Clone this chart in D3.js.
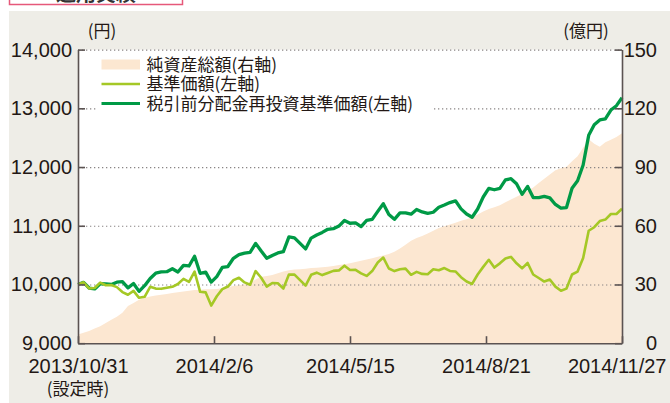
<!DOCTYPE html>
<html><head><meta charset="utf-8">
<script src="https://cdn.jsdelivr.net/npm/d3@7"></script>
<style>body{margin:0;background:#fff;} svg{display:block}</style>
</head><body><svg id="c" width="670" height="403"></svg>
<script>
// ---- data ----
const startDate = "2013-10-31";
const stepDays = 4; // one observation every 4 days
const navTotal = [ // 純資産総額 (億円)
4.5,5.3,6.2,7.5,8.6,10.3,12,13.5,15.6,19,
20.6,22.2,23.2,23.8,24.4,24.8,25.2,25.6,26,26.4,
26.8,27.2,27.3,27.5,27.6,27.7,28.1,28.7,29.2,29.6,
30.1,30.5,32.5,34,34.3,34.9,35.8,36.6,37.3,37.6,
37.8,38.1,38.4,38.6,38.8,39,39.4,39.9,40.3,40.9,
41.5,42.1,42.7,43.4,44.2,44.8,45.6,46.7,48.4,50.3,
52.3,53.8,54.8,56,57.4,58.8,59.8,60.7,61.6,62.5,
63.3,64.4,65.7,67.3,68.6,69.4,70.5,72,73.4,74.8,
76.2,77.7,79.5,81.8,84,86.2,88.3,89.4,90.1,93,
95.5,99.8,104.2,101.9,100.4,102.7,104,105.4,107.2];
const basePrice = [ // 基準価額 (円)
10000,10037,9932,9940,10032,9987,9990,9955,9871,9825,
9890,9773,9790,9960,9930,9926,9945,9960,10008,10095,
10045,10220,9875,9865,9640,9800,9920,9965,10075,10115,
10035,9995,10228,10115,9963,10025,10020,9930,10170,10168,
10075,9980,10165,10201,10160,10195,10232,10240,10320,10247,
10250,10190,10146,10228,10375,10458,10272,10228,10258,10270,
10165,10215,10180,10175,10258,10242,10280,10230,10222,10124,
10050,10009,10170,10300,10420,10288,10360,10444,10470,10360,
10275,10366,10170,10110,10050,10085,9963,9893,9930,10170,
10220,10450,10915,10975,11080,11105,11200,11200,11290];
const reinvestPrice = [ // 税引前分配金再投資基準価額 (円)
10000,10037,9940,9924,10013,10010,10000,10039,10047,9942,
10016,9883,9980,10103,10192,10213,10218,10268,10213,10326,
10315,10480,10190,10210,10040,10135,10290,10306,10446,10509,
10533,10548,10700,10570,10446,10495,10538,10560,10810,10794,
10700,10606,10790,10843,10887,10940,10950,10995,11090,11043,
11050,10985,11090,11108,11245,11376,11190,11110,11220,11220,
11197,11278,11236,11211,11230,11315,11353,11395,11425,11288,
11200,11145,11285,11490,11638,11613,11638,11780,11801,11715,
11535,11670,11480,11480,11500,11475,11363,11300,11310,11640,
11767,12035,12540,12720,12802,12820,12970,13045,13180];
const leftTicks = [9000,10000,11000,12000,13000,14000];
const rightTicks = [0,30,60,90,120,150];
const xTickDates = ["2013-10-31","2014-02-06","2014-05-15","2014-08-21","2014-11-27"];
const xTickLabels = ["2013/10/31","2014/2/6","2014/5/15","2014/8/21","2014/11/27"];
const legendLabels = ["純資産総額(右軸)","基準価額(左軸)","税引前分配金再投資基準価額(左軸)"];
const titleText = "運用実績";

// ---- build ----
const parse = d3.utcParse("%Y-%m-%d");
const t0 = parse(startDate);
const rows = navTotal.map((v,i)=>({date:d3.utcDay.offset(t0,i*stepDays),nav:v,base:basePrice[i],re:reinvestPrice[i]}));

const L=78,R=622,T=49.6,B=343.2;
const x = d3.scaleUtc().domain([parse(xTickDates[0]),parse(xTickDates[4])]).range([L,R]);
const yL = d3.scaleLinear().domain([9000,14000]).range([B,T]);
const yR = d3.scaleLinear().domain([0,150]).range([B,T]);

const svg = d3.select("#c");
const num = '"Liberation Sans Narrow","Arial Narrow","Liberation Sans",sans-serif';
const jp = '"Noto Sans CJK JP","Noto Sans",sans-serif';
const ink = "#231815";
const axisCol = "#5b5352";

// title box (cut at top)
svg.append("rect").attr("x",9.5).attr("y",-12).attr("width",173).attr("height",16.5)
  .attr("fill","#fff").attr("stroke","#e6587a").attr("stroke-width",1.5);
svg.append("text").attr("x",96).attr("y",1).attr("text-anchor","middle")
  .attr("font-family",jp).attr("font-size",20).attr("font-weight","bold").attr("fill","#333").text(titleText);

// panel background
svg.append("rect").attr("x",9).attr("y",11).attr("width",661).attr("height",392).attr("fill","#eeede7");
svg.append("rect").attr("x",L).attr("y",T).attr("width",R-L).attr("height",B-T).attr("fill","#fff");

// area
svg.append("path").datum(rows).attr("fill","#fce7d1")
  .attr("d",d3.area().x(d=>x(d.date)).y0(yR(0)).y1(d=>yR(d.nav)));

// dotted gridlines
const grid = svg.append("g").attr("transform",`translate(${L},0)`)
  .call(d3.axisRight(yL).tickValues(leftTicks.filter(v=>v>9000)).tickSize(R-L).tickFormat(""));
grid.select(".domain").remove();
grid.selectAll("line").attr("stroke","#8a8585").attr("stroke-width",1.2).attr("stroke-dasharray","1.3,2.7");

// legend
const lg = svg.append("g");
lg.append("rect").attr("x",96).attr("y",53).attr("width",336).attr("height",59).attr("fill","#fff");
const ly = [64.5,84,103.5];
lg.append("rect").attr("x",101.5).attr("y",ly[0]-5).attr("width",38.5).attr("height",10).attr("fill","#fce7d1");
lg.append("line").attr("x1",101.5).attr("x2",140).attr("y1",ly[1]).attr("y2",ly[1]).attr("stroke","#a5c826").attr("stroke-width",2.4);
lg.append("line").attr("x1",101.5).attr("x2",140).attr("y1",ly[2]).attr("y2",ly[2]).attr("stroke","#009a46").attr("stroke-width",3);
legendLabels.forEach((t,i)=>{
  lg.append("text").attr("x",146.5).attr("y",ly[i]).attr("dy","0.36em")
    .attr("font-family",jp).attr("font-size",17).attr("fill",ink).text(t);
});

// lines
svg.append("path").datum(rows).attr("fill","none").attr("stroke","#009a46").attr("stroke-width",3.3)
  .attr("stroke-linejoin","round").attr("d",d3.line().x(d=>x(d.date)).y(d=>yL(d.re)));
svg.append("path").datum(rows).attr("fill","none").attr("stroke","#a5c826").attr("stroke-width",2.6)
  .attr("stroke-linejoin","round").attr("d",d3.line().x(d=>x(d.date)).y(d=>yL(d.base)));

// axes
function styleAxis(g){
  g.select(".domain").attr("stroke",axisCol).attr("stroke-width",1.6);
  g.selectAll(".tick line").attr("stroke",axisCol).attr("stroke-width",1.6);
  g.selectAll("text").attr("fill",ink).attr("font-family",num).attr("font-size",20);
}
const ga = svg.append("g").attr("transform",`translate(${L},0)`)
  .call(d3.axisLeft(yL).tickValues(leftTicks).tickFormat(d3.format(",")).tickSizeInner(-7).tickSizeOuter(0).tickPadding(6));
styleAxis(ga);
const gr = svg.append("g").attr("transform",`translate(${R},0)`)
  .call(d3.axisRight(yR).tickValues(rightTicks).tickSizeInner(-7).tickSizeOuter(0).tickPadding(6));
styleAxis(gr);
gr.selectAll("text").attr("x",35).attr("text-anchor","end");
const gb = svg.append("g").attr("transform",`translate(0,${B})`)
  .call(d3.axisBottom(x).tickValues(xTickDates.map(parse)).tickFormat((d,i)=>xTickLabels[i]).tickSizeInner(-7).tickSizeOuter(0).tickPadding(15.5));
styleAxis(gb);
gb.selectAll(".tick text").filter((d,i)=>i===xTickLabels.length-1).attr("text-anchor","end").attr("x",44);

// unit labels
svg.append("text").attr("x",102).attr("y",37).attr("text-anchor","middle").attr("font-family",jp).attr("font-size",17).attr("fill",ink).text("(円)");
svg.append("text").attr("x",586).attr("y",37).attr("text-anchor","middle").attr("font-family",jp).attr("font-size",17).attr("fill",ink).text("(億円)");
svg.append("text").attr("x",x(parse(xTickDates[0]))).attr("y",395).attr("text-anchor","middle").attr("font-family",jp).attr("font-size",17).attr("fill",ink).text("(設定時)");
</script></body></html>
